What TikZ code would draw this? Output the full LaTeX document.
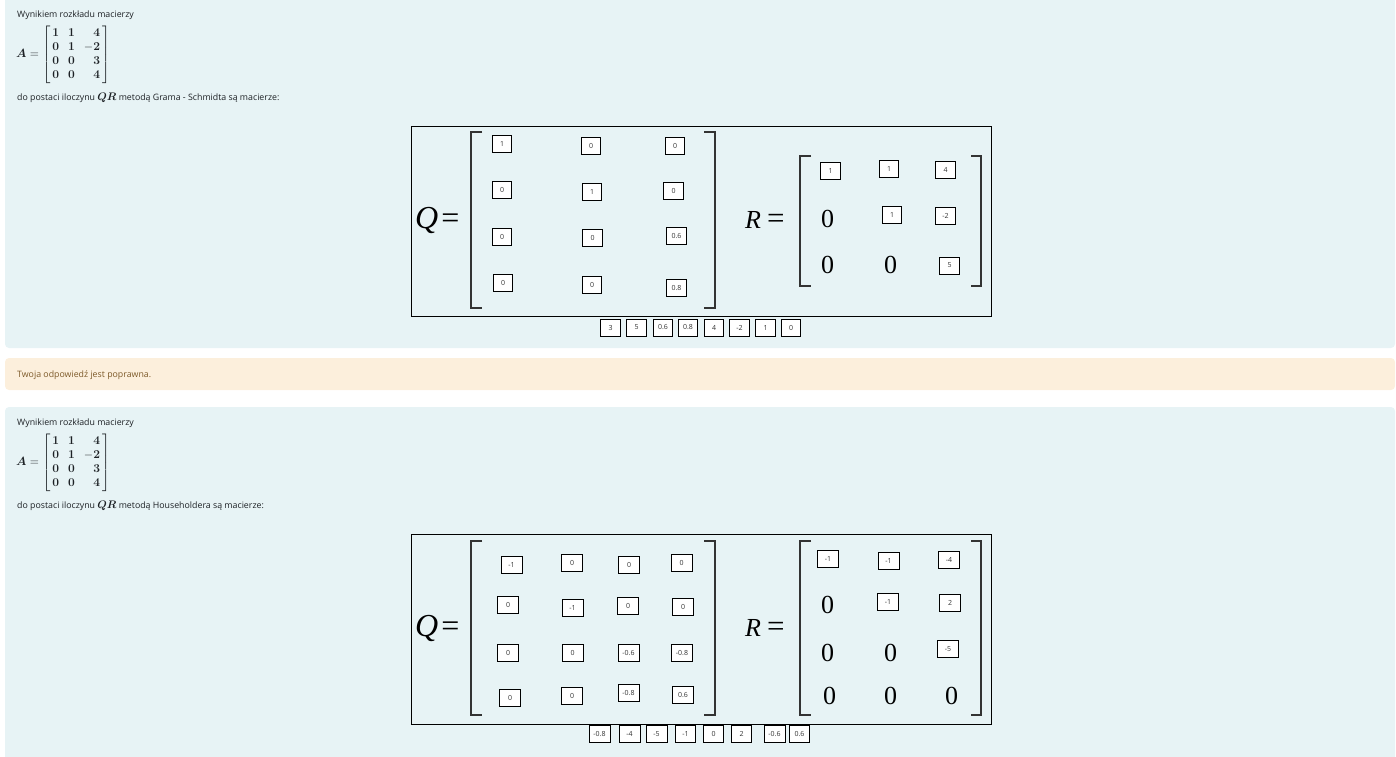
\documentclass[tikz,border=0pt]{standalone}
\usepackage{amsmath}
\usepackage[no-math]{fontspec}
\setmainfont{Open Sans}
\newfontfamily\tnr{Liberation Serif}
\definecolor{panelblue}{HTML}{E7F3F5}
\definecolor{panelcream}{HTML}{FCEFDC}
\definecolor{outtext}{HTML}{7D5A29}
\definecolor{bodytext}{HTML}{1D2125}
\definecolor{brk}{HTML}{333333}
\tikzset{
  panel/.style={fill=#1, draw=none, rounded corners=4pt},
  txt/.style={anchor=base west, inner sep=0pt, text=bodytext, font=\fontsize{8.8}{10}\selectfont},
  tile/.style={draw=black, line width=0.9pt, fill=white, minimum width=19.5pt, minimum height=17pt, inner sep=0pt, text=brk, font=\fontsize{7}{7}\selectfont},
  wtile/.style={tile, minimum width=21pt},
  frame/.style={draw=black, line width=0.9pt},
  bracket/.style={draw=brk, line width=1.5pt},
  bigzero/.style={inner sep=0pt, font=\tnr\fontsize{26}{26}\selectfont},
  lhs/.style={anchor=base west, inner sep=0pt},
  amat/.style={anchor=west, inner sep=0pt, text=bodytext, font=\fontsize{11.5}{13.6}\selectfont}
}
\newcommand{\bd}[1]{\boldsymbol{\mathbf{#1}}}
\newcommand{\Amat}{$\boldsymbol{A}=\renewcommand{\arraystretch}{1.04}\left[\begin{array}{@{\,}c@{\hspace{9pt}}c@{\hspace{9pt}}r@{\,}}\bd{1}&\bd{1}&\bd{4}\\ \bd{0}&\bd{1}&-\bd{2}\\ \bd{0}&\bd{0}&\bd{3}\\ \bd{0}&\bd{0}&\bd{4}\end{array}\right]$}
\newcommand{\Qeq}{{\tnr\fontsize{32}{32}\selectfont\itshape Q\upshape\hspace{3pt}=}}
\newcommand{\Req}{{\tnr\fontsize{26}{26}\selectfont\itshape R\upshape\hspace{6pt}\fontsize{31}{31}\selectfont=}}
\begin{document}
\begin{tikzpicture}[x=1pt,y=-1pt]
\useasboundingbox (0,0) rectangle (1396,756);
\begin{scope}
\clip (0,0) rectangle (1396,756);
\fill[panel=panelblue] (5,-10) rectangle (1395,348);
\fill[panel=panelcream] (5,358) rectangle (1395,390);
\fill[panel=panelblue] (5,407) rectangle (1395,770);
\end{scope}

% ---------- Panel 1 ----------
\node[txt] (t1) at (17,17.5) {Wynikiem rozkładu macierzy};
\node[amat] (a1) at (16,54.5) {\Amat};
\node[txt] (d1) at (17,100) {do postaci iloczynu {\fontsize{11}{11}\selectfont$\boldsymbol{QR}$} metodą Grama - Schmidta są macierze:};

\draw[frame] (411,126) rectangle (991,316);
\node[lhs] (q1) at (415,228) {\Qeq};
\draw[bracket] (482,132) -- (471,132) -- (471,308) -- (482,308);
\draw[bracket] (704,132) -- (715,132) -- (715,308) -- (704,308);
\node[tile] (q11) at (502,144) {1};
\node[tile] (q12) at (591,145.5) {0};
\node[tile] (q13) at (675,145.5) {0};
\node[tile] (q21) at (502,190) {0};
\node[tile] (q22) at (592,192) {1};
\node[tile] (q23) at (673.5,190.5) {0};
\node[tile] (q31) at (502,236.5) {0};
\node[tile] (q32) at (592.5,238) {0};
\node[tile] (q33) at (676.5,236) {0.6};
\node[tile] (q41) at (503,283) {0};
\node[tile] (q42) at (592,285) {0};
\node[tile] (q43) at (676.5,288) {0.8};

\node[lhs] (r1) at (745,228) {\Req};
\draw[bracket] (811,156) -- (800,156) -- (800,286) -- (811,286);
\draw[bracket] (971,156) -- (981,156) -- (981,286) -- (971,286);
\node[tile] (r11) at (830.5,170.5) {1};
\node[tile] (r12) at (889,168.5) {1};
\node[tile] (r13) at (945.5,169.5) {4};
\node[bigzero] (r21) at (827.5,219) {0};
\node[tile] (r22) at (892,214.5) {1};
\node[tile] (r23) at (945.5,216) {-2};
\node[bigzero] (r31) at (827.5,265) {0};
\node[bigzero] (r32) at (890.5,265) {0};
\node[tile] (r33) at (949.5,265.5) {5};

\node[tile] (b11) at (610.5,327.5) {3};
\node[tile] (b12) at (636.5,327.5) {5};
\node[tile] (b13) at (663,327.5) {0.6};
\node[tile] (b14) at (688,327.5) {0.8};
\node[tile] (b15) at (714,327.5) {4};
\node[tile] (b16) at (739.5,327.5) {-2};
\node[tile] (b17) at (765.5,327.5) {1};
\node[tile] (b18) at (791,327.5) {0};

% ---------- Panel 2 ----------
\node[txt, text=outtext] (ok) at (17,377) {Twoja odpowiedź jest poprawna.};

% ---------- Panel 3 ----------
\node[txt] (t3) at (17,425.5) {Wynikiem rozkładu macierzy};
\node[amat] (a3) at (16,462.5) {\Amat};
\node[txt] (d3) at (17,508) {do postaci iloczynu {\fontsize{11}{11}\selectfont$\boldsymbol{QR}$} metodą Householdera są macierze:};

\draw[frame] (411,534) rectangle (991,724);
\node[lhs] (q3) at (415,636) {\Qeq};
\draw[bracket] (482,541) -- (471,541) -- (471,715) -- (482,715);
\draw[bracket] (704,541) -- (715,541) -- (715,715) -- (704,715);
\node[wtile] (s11) at (511.5,565) {-1};
\node[wtile] (s12) at (572,563) {0};
\node[wtile] (s13) at (629,565) {0};
\node[wtile] (s14) at (681.5,562.5) {0};
\node[wtile] (s21) at (508,605) {0};
\node[wtile] (s22) at (572.5,607.5) {-1};
\node[wtile] (s23) at (628,606) {0};
\node[wtile] (s24) at (683,606.5) {0};
\node[wtile] (s31) at (508,652.5) {0};
\node[wtile] (s32) at (572.5,652.5) {0};
\node[wtile] (s33) at (628.5,653) {-0.6};
\node[wtile] (s34) at (682,653) {-0.8};
\node[wtile] (s41) at (510,697.5) {0};
\node[wtile] (s42) at (572,695.5) {0};
\node[wtile] (s43) at (628.5,693) {-0.8};
\node[wtile] (s44) at (683,694.5) {0.6};

\node[lhs] (r3) at (745,636) {\Req};
\draw[bracket] (811,541) -- (800,541) -- (800,715) -- (811,715);
\draw[bracket] (971,541) -- (981,541) -- (981,715) -- (971,715);
\node[wtile] (u11) at (828,558.5) {-1};
\node[wtile] (u12) at (888.5,561) {-1};
\node[wtile] (u13) at (949,559.5) {-4};
\node[bigzero] (u21) at (827.5,605) {0};
\node[wtile] (u22) at (888,602) {-1};
\node[wtile] (u23) at (950,602.5) {2};
\node[bigzero] (u31) at (827.5,653) {0};
\node[bigzero] (u32) at (890.5,653) {0};
\node[wtile] (u33) at (948,649) {-5};
\node[bigzero] (u41) at (829.5,696) {0};
\node[bigzero] (u42) at (890.5,696) {0};
\node[bigzero] (u43) at (951.5,696) {0};

\node[wtile] (c1) at (599.5,734) {-0.8};
\node[wtile] (c2) at (629.5,734) {-4};
\node[wtile] (c3) at (656.5,734) {-5};
\node[tile] (c4) at (685.5,734) {-1};
\node[tile] (c5) at (713.5,734) {0};
\node[tile] (c6) at (741.5,734) {2};
\node[wtile] (c7) at (774.5,734) {-0.6};
\node[tile] (c8) at (799.5,734) {0.6};
\end{tikzpicture}
\end{document}
